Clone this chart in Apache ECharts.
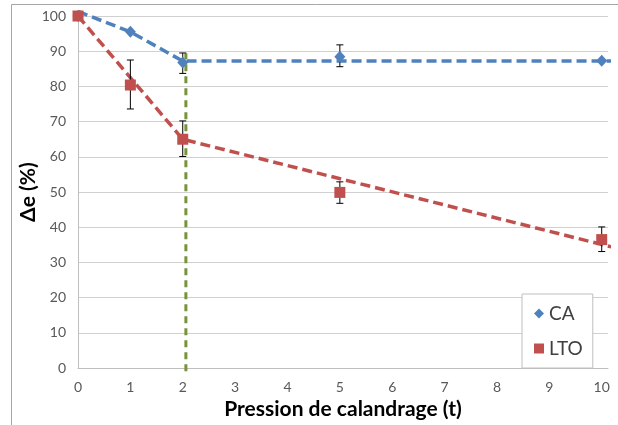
<!DOCTYPE html>
<html>
<head>
<meta charset="utf-8">
<script src="https://cdn.jsdelivr.net/npm/echarts@6/dist/echarts.min.js"></script>
<style>html,body{margin:0;padding:0;background:#fff}#c{width:618px;height:425px}</style>
</head>
<body>
<div id="c"></div>
<script>
// Measured points
const pressure = [0, 1, 2, 5, 10];
const caValues = [100, 95.5, 86.8, 88.4, 87.3];
const ltoValues = [100, 80.4, 65.0, 49.9, 36.5];
// Error bars (low, high); null = none visible
const caErrLow = [null, null, 83.7, 85.6, null];
const caErrHigh = [null, null, 89.5, 91.8, null];
const ltoErrLow = [null, 73.6, 60.1, 46.8, 33.1];
const ltoErrHigh = [null, 87.5, 70.2, 52.9, 40.1];
// Dashed trend lines
const caTrendX = [0, 1, 2, 10.4];
const caTrendY = [101.3, 95.5, 87.2, 87.2];
const ltoTrendX = [0, 2, 10.3];
const ltoTrendY = [100, 65, 34.0];
// Vertical marker line
const markerX = [2.06, 2.06];
const markerY = [-0.9, 89.4];
// Axis ticks
const xTicks = [0, 1, 2, 3, 4, 5, 6, 7, 8, 9, 10];
const yTicks = [0, 10, 20, 30, 40, 50, 60, 70, 80, 90, 100];

const BLUE = '#4F81BD', RED = '#C0504D', GREEN = '#77933C';
const FONT = 'Lato, "Open Sans", sans-serif';

function pairs(xs, ys) { return xs.map((x, i) => [x, ys[i]]); }
function errData(lo, hi) {
  const out = [];
  pressure.forEach((x, i) => { if (lo[i] != null) out.push([x, lo[i], hi[i]]); });
  return out;
}
function errRender(params, api) {
  const x = api.value(0);
  const a = api.coord([x, api.value(1)]);
  const b = api.coord([x, api.value(2)]);
  const cap = 3.5;
  const st = { stroke: '#000', lineWidth: 1 };
  return {
    type: 'group',
    children: [
      { type: 'line', shape: { x1: a[0], y1: a[1], x2: b[0], y2: b[1] }, style: st },
      { type: 'line', shape: { x1: a[0] - cap, y1: a[1], x2: a[0] + cap, y2: a[1] }, style: st },
      { type: 'line', shape: { x1: b[0] - cap, y1: b[1], x2: b[0] + cap, y2: b[1] }, style: st }
    ]
  };
}

const chart = echarts.init(document.getElementById('c'), null, { renderer: 'canvas' });
chart.setOption({
  animation: false,
  textStyle: { fontFamily: FONT },
  graphic: [{
    type: 'rect', silent: true, z: -10,
    shape: { x: 11.5, y: 4.5, width: 700, height: 500 },
    style: { fill: 'none', stroke: '#a6a6a6', lineWidth: 1 }
  }],
  grid: { left: 78, right: 10, top: 16, bottom: 56, containLabel: false },
  legend: {
    data: [{ name: 'CA', icon: 'diamond' }, { name: 'LTO', icon: 'rect' }],
    orient: 'vertical',
    left: 522, top: 294, width: 69, height: 69,
    padding: [10, 10, 10, 12],
    itemWidth: 10, itemHeight: 10, itemGap: 16,
    borderColor: '#bfbfbf', borderWidth: 1, backgroundColor: '#fff',
    textStyle: { fontSize: 19, color: '#404040', fontFamily: FONT }
  },
  xAxis: {
    type: 'value', min: 0, max: 10.12, interval: 1,
    name: 'Pression de calandrage (t)', nameLocation: 'middle', nameGap: 30,
    nameTextStyle: { fontSize: 21, fontWeight: 'bold', color: '#000', fontFamily: FONT },
    axisLine: { show: true, lineStyle: { color: '#bfbfbf', width: 1 } },
    axisTick: { show: false },
    splitLine: { show: false },
    axisLabel: {
      color: '#595959', fontSize: 14, margin: 12, showMaxLabel: false,
      formatter: v => xTicks.includes(Math.round(v * 1000) / 1000) ? String(Math.round(v)) : ''
    }
  },
  yAxis: {
    type: 'value', min: 0, max: 100, interval: 10,
    name: 'Δe (%)', nameLocation: 'middle', nameGap: 39, nameRotate: 90,
    nameMoveOverlap: false,
    nameTextStyle: { fontSize: 21, fontWeight: 'bold', color: '#000', fontFamily: FONT },
    axisLine: { show: true, lineStyle: { color: '#bfbfbf', width: 1 } },
    axisTick: { show: false },
    splitLine: { show: true, lineStyle: { color: '#d0d0d0', width: 1 } },
    axisLabel: {
      color: '#595959', fontSize: 14, margin: 12,
      formatter: v => yTicks.includes(v) ? String(v) : ''
    }
  },
  series: [
    {
      name: 'vline', type: 'line', data: pairs(markerX, markerY), clip: false,
      symbol: 'none', silent: true, z: 2,
      lineStyle: { color: GREEN, width: 3, type: [7, 5] }
    },
    {
      name: 'CA fit', type: 'line', data: pairs(caTrendX, caTrendY), clip: false,
      symbol: 'none', silent: true, z: 3,
      lineStyle: { color: BLUE, width: 3.5, type: [10, 5] }
    },
    {
      name: 'LTO fit', type: 'line', data: pairs(ltoTrendX, ltoTrendY), clip: false,
      symbol: 'none', silent: true, z: 3,
      lineStyle: { color: RED, width: 3.5, type: [10, 5] }
    },
    {
      name: 'CA err', type: 'custom', data: errData(caErrLow, caErrHigh),
      renderItem: errRender, z: 4, silent: true, encode: { x: 0, y: [1, 2] }
    },
    {
      name: 'LTO err', type: 'custom', data: errData(ltoErrLow, ltoErrHigh),
      renderItem: errRender, z: 4, silent: true, encode: { x: 0, y: [1, 2] }
    },
    {
      name: 'CA', type: 'scatter', data: pairs(pressure, caValues),
      symbol: 'diamond', symbolSize: [11, 12], z: 5,
      itemStyle: { color: BLUE, opacity: 1 }
    },
    {
      name: 'LTO', type: 'scatter', data: pairs(pressure, ltoValues),
      symbol: 'rect', symbolSize: 11, z: 6,
      itemStyle: { color: RED, opacity: 1 }
    }
  ]
});
</script>
</body>
</html>
